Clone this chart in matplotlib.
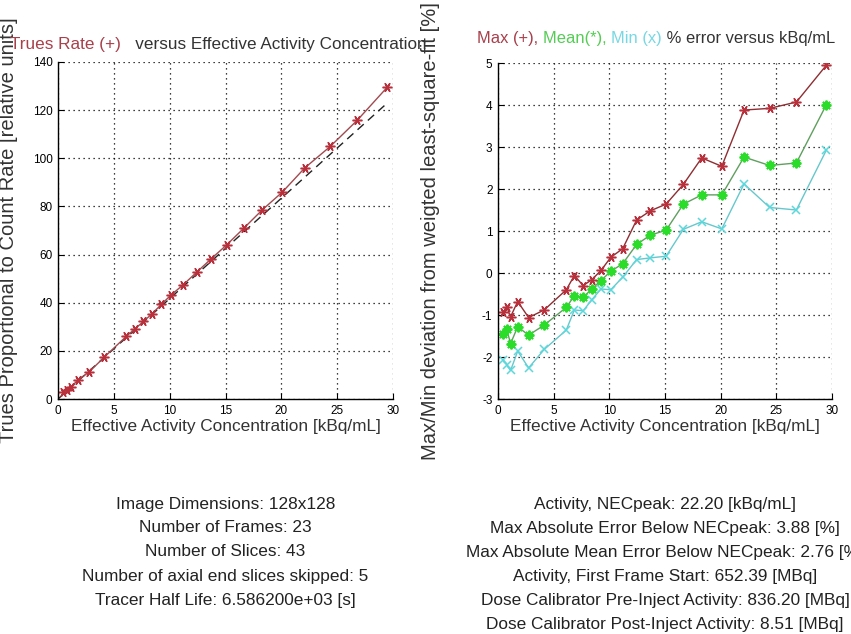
import numpy as np
import matplotlib
matplotlib.use("Agg")
import matplotlib.pyplot as plt

plt.rcParams['font.family'] = ['Liberation Sans', 'DejaVu Sans']
plt.rcParams['axes.unicode_minus'] = False

# --- valeurs ---
conc = [0.45, 0.78, 1.13, 1.77, 2.75, 4.15, 6.13, 6.86, 7.65, 8.42, 9.25, 10.12,
        11.2, 12.45, 13.68, 15.1, 16.65, 18.3, 20.1, 22.1, 24.4, 26.8, 29.5]
trues = [2.8, 3.6, 4.9, 7.8, 11.1, 17.4, 26.1, 29.0, 32.2, 35.4, 39.3, 43.2,
         47.4, 52.8, 58.1, 64.0, 71.0, 78.6, 86.0, 96.0, 105.0, 115.8, 129.6]
fit_slope = 4.17
fit_x = [0, 29.6]

err_max = [-0.94, -0.80, -1.04, -0.68, -1.06, -0.88, -0.40, -0.06, -0.30, -0.16, 0.06, 0.37,
           0.58, 1.26, 1.48, 1.64, 2.11, 2.74, 2.54, 3.88, 3.92, 4.07, 4.95]
err_mean = [-1.46, -1.34, -1.68, -1.28, -1.48, -1.24, -0.82, -0.54, -0.58, -0.38, -0.18, 0.04,
            0.22, 0.68, 0.90, 1.02, 1.64, 1.86, 1.86, 2.76, 2.56, 2.62, 4.01]
err_min = [-2.06, -2.18, -2.32, -1.86, -2.26, -1.82, -1.36, -0.88, -0.90, -0.64, -0.38, -0.40,
           -0.10, 0.32, 0.36, 0.40, 1.04, 1.22, 1.05, 2.12, 1.56, 1.50, 2.93]

infos_gauche = ["Image Dimensions: 128x128",
                "Number of Frames: 23",
                "Number of Slices: 43",
                "Number of axial end slices skipped: 5",
                "Tracer Half Life: 6.586200e+03 [s]"]
infos_droite = ["Activity, NECpeak: 22.20 [kBq/mL]",
                "Max Absolute Error Below NECpeak: 3.88 [%]",
                "Max Absolute Mean Error Below NECpeak: 2.76 [%]",
                "Activity, First Frame Start: 652.39 [MBq]",
                "Dose Calibrator Pre-Inject Activity: 836.20 [MBq]",
                "Dose Calibrator Post-Inject Activity: 8.51 [MBq]"]

ROUGE = "#b8303c"
ROUGE_L = "#a24a50"
VERT = "#2bdc2b"
VERT_L = "#5f9f5f"
CYAN = "#5cd8dc"
CYAN_L = "#66c8cc"
SOMBRE = "#333333"

W, H = 851, 634
fig = plt.figure(figsize=(W / 100, H / 100), dpi=100)


def rect(l, t, r, b):
    return [l / W, 1 - b / H, (r - l) / W, (b - t) / H]


def style(ax, xlim, ylim, yticks):
    ax.set_xlim(*xlim)
    ax.set_ylim(*ylim)
    ax.set_xticks(range(0, 31, 5))
    ax.set_yticks(yticks)
    ax.grid(True, color="black", linestyle=(0, (1, 3)), linewidth=0.9)
    for s in ["top", "right"]:
        ax.spines[s].set_visible(False)
    for s in ["left", "bottom"]:
        ax.spines[s].set_linewidth(1.0)
    ax.tick_params(direction="in", length=4, labelsize=8.5, pad=4, colors="black")
    ax.set_xlabel("Effective Activity Concentration [kBq/mL]", fontsize=12.4,
                  color=SOMBRE, labelpad=2)


asterisque = (6, 2, 90)

# --- graphe de gauche ---
ax1 = fig.add_axes(rect(58, 62, 393, 399))
style(ax1, (0, 30), (0, 140), range(0, 141, 20))
ax1.plot(fit_x, [fit_slope * v for v in fit_x], color="#222222", linestyle=(0, (6, 4)),
         linewidth=1.0)
ax1.plot(conc, trues, color=ROUGE_L, linewidth=1.0, marker=asterisque, markersize=7,
         markeredgecolor=ROUGE, markeredgewidth=1.1)
ax1.set_ylabel("Trues Proportional to Count Rate [relative units]", fontsize=14.5,
               color=SOMBRE, labelpad=2)
ax1.yaxis.set_label_coords(-40 / 335, 0.5)

# --- graphe de droite ---
ax2 = fig.add_axes(rect(498, 63, 832, 399))
style(ax2, (0, 30), (-3, 5), range(-3, 6))
ax2.plot(conc, err_min, color=CYAN_L, linewidth=1.0, marker="x", markersize=6,
         markeredgecolor=CYAN, markeredgewidth=1.1)
ax2.plot(conc, err_mean, color=VERT_L, linewidth=1.0, marker=(8, 2, 0), markersize=7,
         markeredgecolor=VERT, markeredgewidth=1.4)
ax2.plot(conc, err_max, color="#8e2e32", linewidth=1.0, marker=asterisque, markersize=7,
         markeredgecolor=ROUGE, markeredgewidth=1.1)
ax2.set_ylabel("Max/Min deviation from weigted least-square-fit [%]", fontsize=14.5,
               color=SOMBRE, labelpad=2)
ax2.yaxis.set_label_coords(-58 / 334, 0.5)

# --- titres multicolores ---
renderer = fig.canvas.get_renderer()


def titre(morceaux, x0, y0, taille=12.3):
    x = x0 / W
    for texte, couleur in morceaux:
        t = fig.text(x, 1 - y0 / H, texte, color=couleur, fontsize=taille,
                     ha="left", va="baseline")
        bb = t.get_window_extent(renderer)
        x = bb.x1 / W


titre([("Trues Rate (+)", "#a8404c"),
       ("   versus Effective Activity Concentration", SOMBRE)], 10, 49)
titre([("Max (+), ", "#a8404c"), ("Mean(*), ", "#55cc55"), ("Min (x)", "#77d8e4"),
       (" % error versus kBq/mL", SOMBRE)], 477, 43, taille=11.9)

# --- textes d'information ---
for i, ligne in enumerate(infos_gauche):
    fig.text(225.5 / W, 1 - (504 + 24 * i) / H, ligne, fontsize=12.4, color="#222222",
             ha="center", va="center")
for i, ligne in enumerate(infos_droite):
    fig.text(665 / W, 1 - (504 + 24 * i) / H, ligne, fontsize=12.4, color="#222222",
             ha="center", va="center")

fig.savefig("out.png", dpi=100, facecolor="white")
